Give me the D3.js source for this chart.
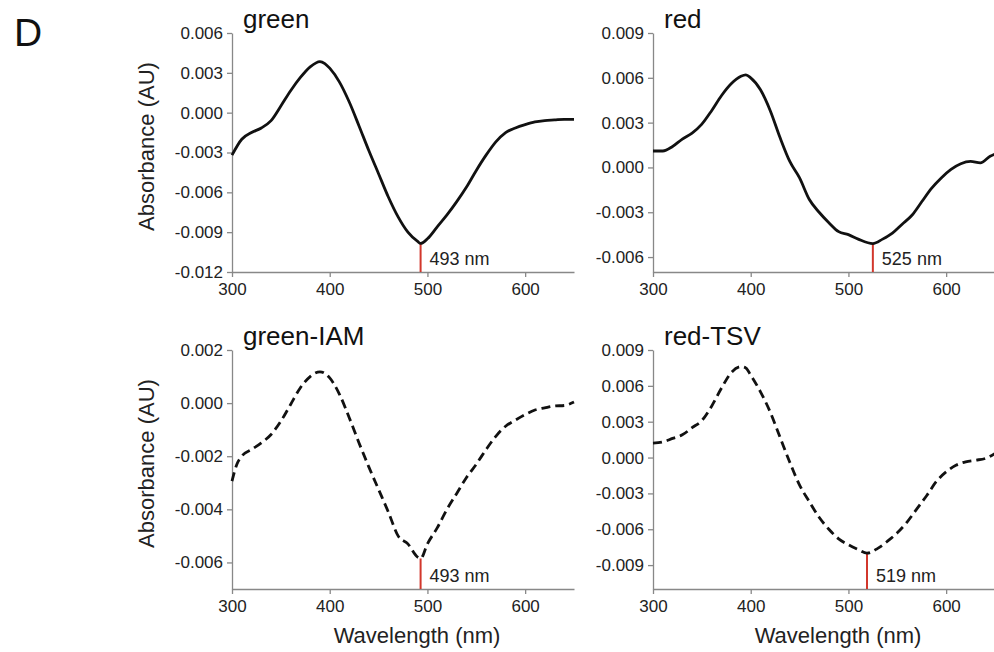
<!DOCTYPE html>
<html>
<head>
<meta charset="utf-8">
<script src="https://cdn.jsdelivr.net/npm/d3@7"></script>
<style>
  body { margin: 0; background: #fff; }
  svg { display: block; font-family: "Liberation Sans", Arial, sans-serif; }
</style>
</head>
<body>
<svg id="chart" width="994" height="652"></svg>
<script>
// wavelengths (nm) and absorbance (AU)
const greenWl  = [300, 310, 320, 330, 340, 350, 360, 370, 380, 390, 395, 400, 410, 420, 430, 440, 450, 460, 470, 480, 490, 493, 500, 510, 520, 530, 540, 550, 560, 570, 580, 590, 600, 610, 620, 630, 640, 650];
const greenAbs = [-0.0032, -0.0020, -0.0015, -0.00115, -0.0006, 0.0005, 0.00165, 0.00265, 0.00345, 0.00385, 0.0037, 0.00335, 0.0023, 0.0008, -0.001, -0.00285, -0.0046, -0.00635, -0.00785, -0.009, -0.0097, -0.00985, -0.0095, -0.0086, -0.0077, -0.0067, -0.0056, -0.00435, -0.0032, -0.0022, -0.0015, -0.00115, -0.0009, -0.0007, -0.0006, -0.00055, -0.0005, -0.0005];

const redWl  = [300, 310, 320, 330, 340, 350, 360, 370, 380, 390, 395, 400, 410, 420, 430, 440, 450, 460, 470, 480, 490, 500, 510, 525, 535, 545, 555, 565, 575, 585, 595, 605, 615, 625, 635, 645, 650];
const redAbs = [0.0011, 0.0011, 0.0014, 0.0019, 0.0023, 0.0029, 0.0038, 0.0048, 0.0056, 0.0061, 0.0062, 0.006, 0.0052, 0.0038, 0.002, 0.0004, -0.0007, -0.00215, -0.003, -0.0037, -0.0043, -0.0045, -0.0048, -0.0051, -0.0048, -0.0044, -0.0038, -0.0032, -0.0023, -0.0014, -0.0007, -0.00013, 0.00025, 0.0004, 0.0003, 0.00075, 0.0009];

const greenIamWl  = [300, 305, 310, 320, 330, 340, 350, 360, 370, 380, 390, 400, 410, 420, 430, 440, 450, 460, 470, 480, 490, 493, 500, 510, 520, 530, 540, 550, 560, 570, 580, 590, 600, 610, 620, 630, 640, 650];
const greenIamAbs = [-0.00294, -0.0023, -0.002, -0.00175, -0.0015, -0.00118, -0.00068, -0.00005, 0.00058, 0.001, 0.00118, 0.00095, 0.00033, -0.00055, -0.0015, -0.0024, -0.00325, -0.0041, -0.005, -0.0053, -0.0058, -0.00585, -0.0053, -0.0047, -0.004, -0.0034, -0.0028, -0.0023, -0.00175, -0.00125, -0.00087, -0.00064, -0.00043, -0.00026, -0.00018, -0.00011, -0.00009, 0.00004];

const redTsvWl  = [300, 310, 320, 330, 340, 350, 360, 370, 380, 390, 395, 400, 410, 420, 430, 440, 450, 460, 470, 480, 490, 500, 510, 519, 530, 540, 550, 560, 570, 580, 590, 600, 610, 620, 630, 640, 650];
const redTsvAbs = [0.0012, 0.0013, 0.0016, 0.0019, 0.0025, 0.0031, 0.0043, 0.0058, 0.0071, 0.0076, 0.0075, 0.0069, 0.0055, 0.0038, 0.0017, -0.0004, -0.0023, -0.0037, -0.005, -0.006, -0.0068, -0.0073, -0.0077, -0.008, -0.0076, -0.007, -0.0063, -0.0054, -0.0043, -0.0032, -0.002, -0.0012, -0.00065, -0.00036, -0.00022, -0.00008, 0.00034];

const titles = ['green', 'red', 'green-IAM', 'red-TSV'];
const peaks = [493, 525, 493, 519];
const xTicks = [300, 400, 500, 600];
const yTicksGreen = [0.006, 0.003, 0, -0.003, -0.006, -0.009, -0.012];
const yTicksRed = [0.009, 0.006, 0.003, 0, -0.003, -0.006];
const yTicksGreenIam = [0.002, 0, -0.002, -0.004, -0.006];
const yTicksRedTsv = [0.009, 0.006, 0.003, 0, -0.003, -0.006, -0.009];

const panels = [
  { title: titles[0], wl: greenWl, abs: greenAbs, peak: peaks[0], yDomain: [-0.012, 0.006], yTicks: yTicksGreen, x: 232, y: 33, dashed: false, ylab: true, xlab: false },
  { title: titles[1], wl: redWl, abs: redAbs, peak: peaks[1], yDomain: [-0.007, 0.009], yTicks: yTicksRed, x: 653, y: 33, dashed: false, ylab: false, xlab: false },
  { title: titles[2], wl: greenIamWl, abs: greenIamAbs, peak: peaks[2], yDomain: [-0.007, 0.002], yTicks: yTicksGreenIam, x: 232, y: 350, dashed: true, ylab: true, xlab: true },
  { title: titles[3], wl: redTsvWl, abs: redTsvAbs, peak: peaks[3], yDomain: [-0.011, 0.009], yTicks: yTicksRedTsv, x: 653, y: 350, dashed: true, ylab: false, xlab: true },
];

const W = 342, H = 239;
const svg = d3.select('#chart');

svg.append('text')
  .attr('x', 14).attr('y', 46)
  .attr('font-size', 39)
  .attr('fill', '#111')
  .text('D');

panels.forEach(p => {
  const g = svg.append('g').attr('transform', `translate(${p.x},${p.y})`);
  const x = d3.scaleLinear([300, 650], [0, W]);
  const y = d3.scaleLinear(p.yDomain, [H, 0]);
  const pts = p.wl.map((w, i) => [w, p.abs[i]]);

  // axes
  g.append('g')
    .attr('transform', `translate(0,${H})`)
    .call(d3.axisBottom(x).tickValues(xTicks).tickSize(5).tickPadding(6).tickSizeOuter(0))
    .call(a => a.select('.domain').attr('stroke', '#888').attr('stroke-width', 1.3))
    .call(a => a.selectAll('.tick line').attr('stroke', '#888').attr('stroke-width', 1.3))
    .call(a => a.selectAll('.tick text').attr('font-size', 17).attr('fill', '#222')
      .attr('font-family', '"Liberation Sans", Arial, sans-serif'));

  g.append('g')
    .call(d3.axisLeft(y).tickValues(p.yTicks).tickFormat(d => d.toFixed(3)).tickSize(5).tickPadding(4).tickSizeOuter(0))
    .call(a => a.select('.domain').attr('stroke', '#888').attr('stroke-width', 1.3))
    .call(a => a.selectAll('.tick line').attr('stroke', '#888').attr('stroke-width', 1.3))
    .call(a => a.selectAll('.tick text').attr('font-size', 17).attr('fill', '#222')
      .attr('font-family', '"Liberation Sans", Arial, sans-serif'));

  // peak marker
  const peakIdx = p.wl.indexOf(p.peak);
  g.append('line')
    .attr('x1', x(p.peak)).attr('x2', x(p.peak))
    .attr('y1', H).attr('y2', y(p.abs[peakIdx]))
    .attr('stroke', '#d2372c')
    .attr('stroke-width', 2);
  g.append('text')
    .attr('x', x(p.peak) + 9).attr('y', H - 7)
    .attr('font-size', 18)
    .attr('fill', '#222')
    .text(`${p.peak} nm`);

  // spectrum
  g.append('path')
    .datum(pts)
    .attr('fill', 'none')
    .attr('stroke', '#111')
    .attr('stroke-width', 2.8)
    .attr('stroke-linejoin', 'round')
    .attr('stroke-dasharray', p.dashed ? '9,5' : null)
    .attr('d', d3.line().x(d => x(d[0])).y(d => y(d[1])).curve(d3.curveMonotoneX));

  g.append('text')
    .attr('x', 11).attr('y', -5)
    .attr('font-size', 26)
    .attr('fill', '#111')
    .text(p.title);

  if (p.ylab) {
    g.append('text')
      .attr('transform', `translate(${154 - p.x},${H / 2 - 6}) rotate(-90)`)
      .attr('text-anchor', 'middle')
      .attr('font-size', 22)
      .attr('fill', '#222')
      .text('Absorbance (AU)');
  }
  if (p.xlab) {
    g.append('text')
      .attr('x', W / 2 + 14).attr('y', 643 - p.y)
      .attr('text-anchor', 'middle')
      .attr('font-size', 22)
      .attr('fill', '#222')
      .text('Wavelength (nm)');
  }
});
</script>
</body>
</html>
